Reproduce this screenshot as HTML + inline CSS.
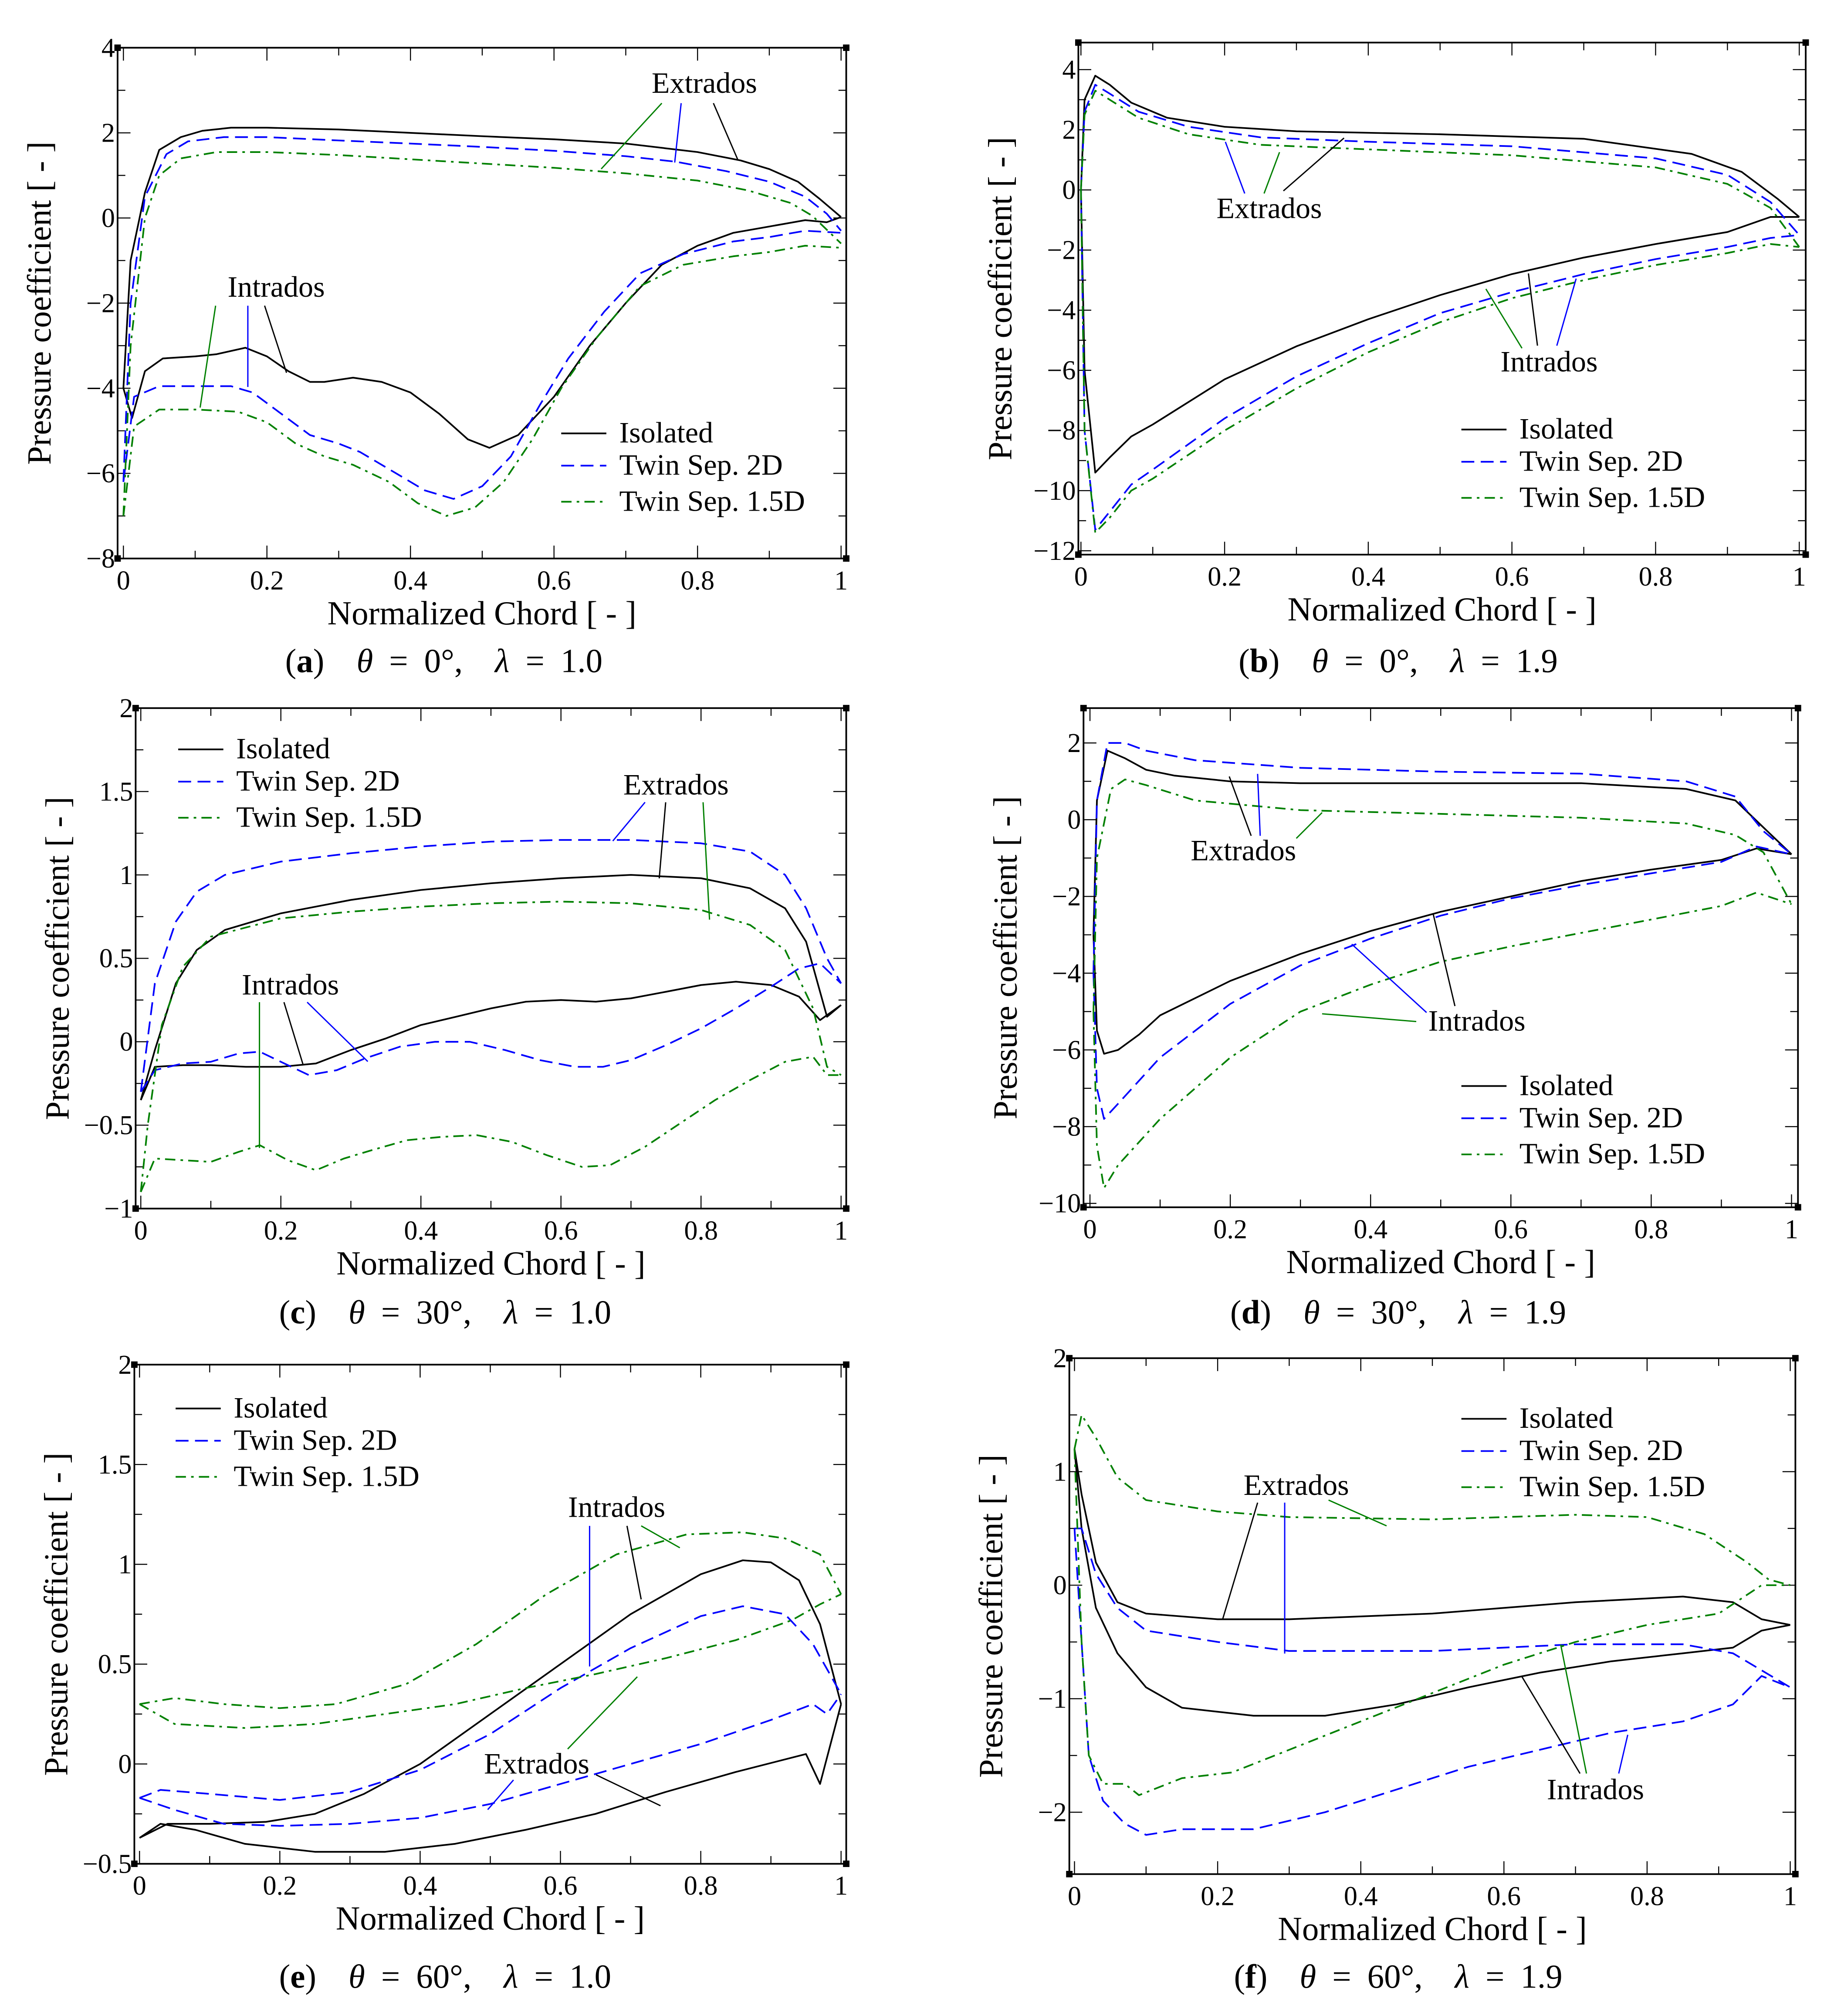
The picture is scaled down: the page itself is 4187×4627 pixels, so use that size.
<!DOCTYPE html>
<html><head><meta charset="utf-8"><style>
html,body{margin:0;padding:0;background:#fff}
svg{display:block}
svg text{font-family:"Liberation Serif",serif;fill:#000}
</style></head><body>
<svg id="fig" width="4187" height="4627" viewBox="0 0 1414 1563" font-family="Liberation Serif, serif" xmlns="http://www.w3.org/2000/svg"></svg>
<script>
// ---- data arrays (x = normalized chord, y = Cp) ----
const a_iso_ext=[[0,-4],[0.01,-1],[0.03,0.6],[0.05,1.6],[0.08,1.9],[0.11,2.05],[0.15,2.12],[0.2,2.12],[0.3,2.08],[0.4,2.0],[0.5,1.92],[0.6,1.85],[0.7,1.75],[0.8,1.55],[0.86,1.35],[0.9,1.15],[0.94,0.85],[0.97,0.45],[1,0.02]];
const a_iso_int=[[0,-4],[0.012,-4.7],[0.03,-3.6],[0.055,-3.3],[0.1,-3.25],[0.13,-3.2],[0.17,-3.05],[0.2,-3.25],[0.23,-3.6],[0.26,-3.85],[0.28,-3.85],[0.32,-3.75],[0.36,-3.85],[0.4,-4.1],[0.44,-4.6],[0.48,-5.2],[0.51,-5.4],[0.55,-5.1],[0.6,-4.2],[0.65,-3.0],[0.7,-2.0],[0.75,-1.1],[0.8,-0.65],[0.85,-0.35],[0.9,-0.2],[0.95,-0.05],[0.98,-0.1],[1,0.02]];
const a_2d_ext=[[0,-6.2],[0.01,-2],[0.03,0.5],[0.06,1.5],[0.09,1.8],[0.14,1.9],[0.2,1.9],[0.3,1.82],[0.4,1.75],[0.5,1.67],[0.6,1.58],[0.7,1.45],[0.77,1.32],[0.84,1.1],[0.9,0.85],[0.95,0.5],[0.98,0.1],[1,-0.3]];
const a_2d_int=[[0,-6.2],[0.015,-4.2],[0.05,-3.95],[0.1,-3.95],[0.15,-3.95],[0.18,-4.1],[0.22,-4.6],[0.26,-5.1],[0.3,-5.3],[0.33,-5.5],[0.38,-6.0],[0.42,-6.4],[0.46,-6.6],[0.5,-6.3],[0.54,-5.6],[0.58,-4.4],[0.62,-3.3],[0.67,-2.2],[0.72,-1.3],[0.78,-0.85],[0.85,-0.55],[0.9,-0.45],[0.95,-0.3],[1,-0.35]];
const a_15_ext=[[0,-7],[0.01,-3],[0.03,0],[0.05,1.0],[0.08,1.4],[0.13,1.55],[0.2,1.55],[0.3,1.48],[0.4,1.38],[0.5,1.28],[0.6,1.18],[0.7,1.05],[0.8,0.88],[0.87,0.65],[0.93,0.35],[0.96,0.05],[1,-0.6]];
const a_15_int=[[0,-7],[0.015,-4.9],[0.05,-4.5],[0.1,-4.5],[0.16,-4.55],[0.2,-4.8],[0.24,-5.3],[0.28,-5.6],[0.32,-5.8],[0.37,-6.2],[0.41,-6.7],[0.45,-7.0],[0.49,-6.8],[0.53,-6.2],[0.57,-5.2],[0.61,-4.0],[0.66,-2.8],[0.72,-1.6],[0.78,-1.1],[0.85,-0.9],[0.9,-0.8],[0.95,-0.65],[1,-0.7]];

const b_iso_ext=[[0,0],[0.005,3],[0.02,3.8],[0.04,3.5],[0.07,2.9],[0.12,2.4],[0.2,2.1],[0.3,1.95],[0.5,1.85],[0.7,1.7],[0.85,1.2],[0.92,0.6],[0.97,-0.3],[1,-0.9]];
const b_2d_ext=[[0,0],[0.005,2.6],[0.02,3.5],[0.04,3.2],[0.08,2.6],[0.15,2.1],[0.25,1.75],[0.4,1.6],[0.6,1.45],[0.8,1.05],[0.9,0.5],[0.96,-0.4],[1,-1.5]];
const b_15_ext=[[0,0],[0.005,2.5],[0.02,3.3],[0.04,3.0],[0.08,2.4],[0.15,1.85],[0.25,1.5],[0.4,1.35],[0.6,1.15],[0.8,0.75],[0.9,0.2],[0.96,-0.6],[1,-1.9]];
const b_iso_int=[[0,0],[0.005,-6],[0.02,-9.4],[0.04,-8.9],[0.07,-8.2],[0.1,-7.8],[0.2,-6.3],[0.3,-5.2],[0.4,-4.3],[0.5,-3.5],[0.6,-2.8],[0.7,-2.25],[0.8,-1.8],[0.9,-1.4],[0.96,-0.9],[1,-0.9]];
const b_2d_int=[[0,0],[0.005,-8],[0.02,-11.3],[0.04,-10.7],[0.07,-9.8],[0.1,-9.3],[0.2,-7.6],[0.3,-6.2],[0.4,-5.1],[0.5,-4.1],[0.6,-3.4],[0.7,-2.8],[0.8,-2.3],[0.9,-1.9],[0.96,-1.6],[1,-1.5]];
const b_15_int=[[0,0],[0.005,-8],[0.02,-11.4],[0.04,-10.9],[0.07,-10.0],[0.1,-9.6],[0.2,-8.0],[0.3,-6.6],[0.4,-5.4],[0.5,-4.4],[0.6,-3.6],[0.7,-3.0],[0.8,-2.5],[0.9,-2.1],[0.96,-1.8],[1,-1.9]];

const c_iso_ext=[[0,-0.35],[0.02,-0.05],[0.05,0.35],[0.08,0.55],[0.12,0.67],[0.2,0.77],[0.3,0.85],[0.4,0.91],[0.5,0.95],[0.6,0.98],[0.7,1.0],[0.8,0.98],[0.87,0.92],[0.92,0.8],[0.95,0.6],[0.98,0.15],[1,0.22]];
const c_2d_ext=[[0,-0.3],[0.02,0.35],[0.05,0.72],[0.08,0.9],[0.12,1.0],[0.2,1.08],[0.3,1.13],[0.4,1.17],[0.5,1.2],[0.6,1.21],[0.7,1.21],[0.8,1.19],[0.87,1.14],[0.92,1.0],[0.95,0.8],[0.98,0.5],[1,0.35]];
const c_15_ext=[[0,-0.9],[0.01,-0.5],[0.03,0.1],[0.06,0.45],[0.1,0.63],[0.2,0.74],[0.3,0.78],[0.4,0.81],[0.5,0.83],[0.6,0.84],[0.7,0.83],[0.8,0.79],[0.87,0.7],[0.92,0.55],[0.96,0.2],[0.98,-0.15],[1,-0.2]];
const c_iso_int=[[0,-0.35],[0.02,-0.15],[0.06,-0.14],[0.1,-0.14],[0.15,-0.15],[0.2,-0.15],[0.25,-0.13],[0.3,-0.05],[0.35,0.02],[0.4,0.1],[0.45,0.15],[0.5,0.2],[0.55,0.24],[0.6,0.25],[0.65,0.24],[0.7,0.26],[0.75,0.3],[0.8,0.34],[0.85,0.36],[0.9,0.34],[0.94,0.27],[0.97,0.13],[1,0.22]];
const c_2d_int=[[0,-0.3],[0.02,-0.17],[0.06,-0.13],[0.1,-0.12],[0.14,-0.07],[0.17,-0.06],[0.21,-0.14],[0.24,-0.2],[0.28,-0.17],[0.32,-0.1],[0.37,-0.03],[0.42,0.0],[0.47,0.0],[0.52,-0.05],[0.57,-0.11],[0.62,-0.15],[0.66,-0.15],[0.7,-0.11],[0.75,-0.02],[0.8,0.08],[0.85,0.2],[0.9,0.33],[0.94,0.44],[0.97,0.47],[1,0.35]];
const c_15_int=[[0,-0.9],[0.02,-0.7],[0.06,-0.71],[0.1,-0.72],[0.14,-0.66],[0.17,-0.62],[0.21,-0.71],[0.25,-0.77],[0.29,-0.7],[0.33,-0.65],[0.38,-0.59],[0.43,-0.57],[0.48,-0.56],[0.53,-0.6],[0.58,-0.68],[0.63,-0.75],[0.67,-0.74],[0.72,-0.63],[0.77,-0.49],[0.82,-0.35],[0.87,-0.23],[0.92,-0.12],[0.96,-0.09],[0.98,-0.2],[1,-0.2]];

const d_iso_ext=[[0.005,-3],[0.01,0.5],[0.025,1.8],[0.05,1.6],[0.08,1.3],[0.12,1.15],[0.2,1.0],[0.3,0.95],[0.5,0.95],[0.7,0.95],[0.85,0.8],[0.92,0.5],[0.96,-0.2],[1,-0.9]];
const d_2d_ext=[[0.005,-4],[0.01,0.5],[0.025,2.0],[0.05,2.0],[0.08,1.8],[0.15,1.55],[0.3,1.35],[0.5,1.25],[0.7,1.2],[0.85,1.0],[0.92,0.6],[0.96,-0.3],[1,-0.9]];
const d_15_ext=[[0.005,-5],[0.01,-1],[0.03,0.8],[0.05,1.05],[0.08,0.9],[0.15,0.5],[0.3,0.25],[0.5,0.15],[0.7,0.05],[0.85,-0.1],[0.92,-0.4],[0.96,-0.85],[1,-2.2]];
const d_iso_int=[[0.005,-3],[0.01,-5.5],[0.02,-6.1],[0.04,-6.0],[0.07,-5.6],[0.1,-5.1],[0.2,-4.2],[0.3,-3.5],[0.4,-2.9],[0.5,-2.4],[0.6,-2.0],[0.7,-1.6],[0.8,-1.3],[0.9,-1.05],[0.95,-0.75],[1,-0.9]];
const d_2d_int=[[0.005,-4],[0.01,-7],[0.02,-7.8],[0.04,-7.4],[0.07,-6.8],[0.1,-6.2],[0.2,-4.8],[0.3,-3.8],[0.4,-3.1],[0.5,-2.5],[0.6,-2.05],[0.7,-1.7],[0.8,-1.4],[0.9,-1.1],[0.95,-0.7],[1,-0.9]];
const d_15_int=[[0.005,-5],[0.01,-8.5],[0.02,-9.6],[0.04,-9.0],[0.07,-8.4],[0.1,-7.8],[0.2,-6.2],[0.3,-5.0],[0.4,-4.3],[0.5,-3.7],[0.6,-3.3],[0.7,-2.95],[0.8,-2.6],[0.9,-2.25],[0.95,-1.9],[1,-2.2]];

const e_iso_ext=[[0,-0.37],[0.03,-0.3],[0.08,-0.33],[0.15,-0.4],[0.25,-0.44],[0.35,-0.44],[0.45,-0.4],[0.55,-0.33],[0.65,-0.25],[0.75,-0.14],[0.85,-0.04],[0.95,0.05],[0.97,-0.1],[1,0.3]];
const e_iso_int=[[0,-0.37],[0.04,-0.3],[0.1,-0.3],[0.18,-0.29],[0.25,-0.25],[0.32,-0.15],[0.4,0.0],[0.5,0.25],[0.6,0.5],[0.7,0.75],[0.8,0.95],[0.86,1.02],[0.9,1.01],[0.94,0.92],[0.97,0.7],[1,0.3]];
const e_2d_int=[[0,-0.17],[0.03,-0.13],[0.1,-0.15],[0.2,-0.18],[0.3,-0.14],[0.4,-0.03],[0.5,0.15],[0.6,0.38],[0.7,0.58],[0.8,0.74],[0.86,0.79],[0.92,0.75],[0.96,0.6],[1,0.35]];
const e_2d_ext=[[0,-0.17],[0.05,-0.23],[0.12,-0.3],[0.2,-0.31],[0.3,-0.3],[0.4,-0.27],[0.5,-0.2],[0.6,-0.1],[0.7,0.0],[0.8,0.1],[0.9,0.22],[0.96,0.3],[0.98,0.25],[1,0.35]];
const e_15_int=[[0,0.3],[0.05,0.33],[0.12,0.3],[0.2,0.28],[0.28,0.3],[0.38,0.4],[0.48,0.6],[0.58,0.85],[0.68,1.05],[0.78,1.15],[0.86,1.16],[0.92,1.13],[0.97,1.05],[1,0.85]];
const e_15_ext=[[0,0.3],[0.05,0.2],[0.15,0.18],[0.25,0.2],[0.35,0.25],[0.45,0.3],[0.55,0.38],[0.65,0.45],[0.75,0.53],[0.85,0.62],[0.93,0.72],[0.97,0.8],[1,0.85]];

const f_iso_ext=[[0,1.2],[0.01,0.8],[0.03,0.2],[0.06,-0.15],[0.1,-0.25],[0.2,-0.3],[0.3,-0.3],[0.5,-0.25],[0.7,-0.15],[0.85,-0.1],[0.92,-0.15],[0.96,-0.3],[1,-0.35]];
const f_iso_int=[[0,1.2],[0.01,0.5],[0.03,-0.2],[0.06,-0.6],[0.1,-0.9],[0.15,-1.08],[0.25,-1.15],[0.35,-1.15],[0.45,-1.05],[0.55,-0.9],[0.65,-0.77],[0.75,-0.67],[0.85,-0.6],[0.92,-0.55],[0.96,-0.4],[1,-0.35]];
const f_2d_ext=[[0,0.5],[0.01,0.5],[0.03,0.1],[0.06,-0.2],[0.1,-0.4],[0.2,-0.5],[0.3,-0.58],[0.5,-0.58],[0.7,-0.52],[0.85,-0.52],[0.92,-0.6],[0.96,-0.75],[1,-0.9]];
const f_2d_int=[[0,0.5],[0.01,-0.5],[0.02,-1.5],[0.04,-1.9],[0.07,-2.1],[0.1,-2.2],[0.15,-2.15],[0.25,-2.15],[0.35,-2.0],[0.45,-1.8],[0.55,-1.6],[0.65,-1.45],[0.75,-1.3],[0.85,-1.2],[0.92,-1.05],[0.96,-0.8],[1,-0.9]];
const f_15_ext=[[0,1.2],[0.01,1.5],[0.03,1.3],[0.06,0.95],[0.1,0.75],[0.2,0.65],[0.3,0.6],[0.5,0.58],[0.7,0.62],[0.8,0.6],[0.88,0.45],[0.94,0.2],[0.97,0.05],[1,0.0]];
const f_15_int=[[0,1.2],[0.01,-0.5],[0.02,-1.5],[0.04,-1.75],[0.07,-1.75],[0.09,-1.85],[0.15,-1.7],[0.22,-1.65],[0.3,-1.45],[0.4,-1.2],[0.5,-0.95],[0.6,-0.7],[0.7,-0.5],[0.8,-0.35],[0.9,-0.25],[0.96,0.0],[1,0.0]];

const xTickLabels=["0","0.2","0.4","0.6","0.8","1"];
const yTicksA=[4,2,0,-2,-4,-6,-8];
const yTicksB=[4,2,0,-2,-4,-6,-8,-10,-12];
const yTicksC=[2,1.5,1,0.5,0,-0.5,-1];
const yTicksD=[2,0,-2,-4,-6,-8,-10];
const yTicksE=[2,1.5,1,0.5,0,-0.5];
const yTicksF=[2,1,0,-1,-2];

const NS="http://www.w3.org/2000/svg";
const FONT='"Liberation Serif", serif';
const svg=document.getElementById('fig');
function mk(tag,attrs,parent){const e=document.createElementNS(NS,tag);for(const k in attrs)e.setAttribute(k,attrs[k]);if(tag==='text'){e.setAttribute('font-family',FONT);}(parent||svg).appendChild(e);return e;}
function fmt(v){return (v<0?"\u2212":"")+Math.abs(v);}
const STY={iso:{stroke:"#000",dash:""},d2:{stroke:"#0000ff",dash:"10,5"},d15:{stroke:"#008000",dash:"8,4,2,4"}};

const panels=[
 {id:'a',f:[91,37,656,433],x0:95.5,x1:652,ya:[4,37],yb:[-8,433],ticks:yTicksA,minor:1,
  series:[['iso',a_iso_ext],['iso',a_iso_int],['d2',a_2d_ext],['d2',a_2d_int],['d15',a_15_ext],['d15',a_15_int]],
  leg:[435,336],cap:[344,513],capT:['a','0°','1.0'],
  ann:[['Extrados',546,72,[[553,80,572,124,'#000'],[528,80,523,126,'#0000ff'],[513,80,466,131,'#008000']]],
       ['Intrados',214,230,[[205,237,222,289,'#000'],[192,237,192,300,'#0000ff'],[167,237,155,316,'#008000']]]]},
 {id:'b',f:[836,33,1400,430],x0:838,x1:1395,ya:[4,54],yb:[-12,427],ticks:yTicksB,minor:1,
  series:[['iso',b_iso_ext],['iso',b_iso_int],['d2',b_2d_ext],['d2',b_2d_int],['d15',b_15_ext],['d15',b_15_int]],
  leg:[1133,333],cap:[1084,513],capT:['b','0°','1.9'],
  ann:[['Extrados',984,169,[[965,150,950,110,'#0000ff'],[980,150,992,118,'#008000'],[995,148,1042,107,'#000']]],
       ['Intrados',1201,288,[[1192,268,1185,212,'#000'],[1207,268,1222,216,'#0000ff'],[1180,270,1152,224,'#008000']]]]},
 {id:'c',f:[105,549,656,937],x0:109,x1:652,ya:[2,549],yb:[-1,937],ticks:yTicksC,minor:0.25,
  series:[['iso',c_iso_ext],['iso',c_iso_int],['d2',c_2d_ext],['d2',c_2d_int],['d15',c_15_ext],['d15',c_15_int]],
  leg:[138,581],cap:[345,1018],capT:['c','30°','1.0'],
  ann:[['Extrados',524,616,[[516,622,511,681,'#000'],[500,622,475,652,'#0000ff'],[545,622,550,713,'#008000']]],
       ['Intrados',225,771,[[220,777,235,826,'#000'],[238,777,285,823,'#0000ff'],[201,777,201,890,'#008000']]]]},
 {id:'d',f:[840,549,1394,936],x0:845,x1:1389,ya:[2,576],yb:[-10,933],ticks:yTicksD,minor:1,
  series:[['iso',d_iso_ext],['iso',d_iso_int],['d2',d_2d_ext],['d2',d_2d_int],['d15',d_15_ext],['d15',d_15_int]],
  leg:[1133,842],cap:[1084,1018],capT:['d','30°','1.9'],
  ann:[['Extrados',964,667,[[977,648,975,600,'#0000ff'],[970,648,953,602,'#000'],[1005,650,1025,630,'#008000']]],
       ['Intrados',1145,799,[[1128,780,1111,708,'#000'],[1106,785,1048,732,'#0000ff'],[1098,792,1025,786,'#008000']]]]},
 {id:'e',f:[104,1058,656,1445],x0:108,x1:652,ya:[2,1058],yb:[-0.5,1445],ticks:yTicksE,minor:0.25,
  series:[['iso',e_iso_ext],['iso',e_iso_int],['d2',e_2d_ext],['d2',e_2d_int],['d15',e_15_ext],['d15',e_15_int]],
  leg:[136,1092],cap:[345,1533],capT:['e','60°','1.0'],
  ann:[['Intrados',478,1176,[[486,1183,497,1240,'#000'],[457,1183,457,1292,'#0000ff'],[497,1183,527,1200,'#008000']]],
       ['Extrados',416,1375,[[462,1376,512,1400,'#000'],[398,1380,378,1403,'#0000ff'],[440,1356,494,1300,'#008000']]]]},
 {id:'f',f:[829,1053,1392,1453],x0:833,x1:1388,ya:[2,1053],yb:[-2,1405],ticks:yTicksF,minor:0.5,
  series:[['iso',f_iso_ext],['iso',f_iso_int],['d2',f_2d_ext],['d2',f_2d_int],['d15',f_15_ext],['d15',f_15_int]],
  leg:[1133,1100],cap:[1084,1533],capT:['f','60°','1.9'],
  ann:[['Extrados',1005,1159,[[975,1165,948,1255,'#000'],[996,1165,996,1282,'#0000ff'],[1030,1163,1075,1183,'#008000']]],
       ['Intrados',1237,1395,[[1225,1375,1180,1300,'#000'],[1230,1375,1210,1275,'#008000'],[1255,1375,1262,1345,'#0000ff']]]]}
];

panels.forEach(p=>{
  const g=mk('g',{});
  
  
  const [L,T,R,B]=p.f;
  const xs=v=>p.x0+(p.x1-p.x0)*v;
  const ys=v=>p.ya[1]+(v-p.ya[0])*(p.yb[1]-p.ya[1])/(p.yb[0]-p.ya[0]);
  const yMin=Math.min(p.yb[0],p.ya[0]), yMax=Math.max(p.yb[0],p.ya[0]);
  const tg=mk('g',{stroke:'#000','stroke-width':0.8},g);
  
  
  for(let i=0;i<=10;i++){const x=xs(i/10);const len=i%2?6:10;
    mk('line',{x1:x,y1:B,x2:x,y2:B-len},tg);mk('line',{x1:x,y1:T,x2:x,y2:T+len},tg);}
  for(let k=0;k<=Math.round((yMax-yMin)/p.minor)+6;k++){
    const v=yMin+k*p.minor; const y=ys(v); if(y<T-0.5||y>B+0.5)continue;
    const major=p.ticks.some(t=>Math.abs(t-v)<1e-6);const len=major?10:6;
    mk('line',{x1:L,y1:y,x2:L+len,y2:y},tg);mk('line',{x1:R,y1:y,x2:R-len,y2:y},tg);}
  const fr=mk('rect',{x:L,y:T,width:R-L,height:B-T,fill:'none',stroke:'#000','stroke-width':1.3},g);
  
  
  [[L,T],[R,T],[L,B],[R,B]].forEach(c=>mk('rect',{x:c[0]-2.5,y:c[1]-2.5,width:5,height:5,fill:'#000'},g));
  xTickLabels.forEach((s,i)=>{const t=mk('text',{x:xs(i*0.2),y:B+24,'font-size':21,'text-anchor':'middle'},g);t.textContent=s;
    
    });
  p.ticks.forEach(v=>{const t=mk('text',{x:L-2,y:ys(v)+7,'font-size':21,'text-anchor':'end'},g);t.textContent=fmt(v);
    
    });
  const xt=mk('text',{x:(L+R)/2,y:B+51,'font-size':26,'text-anchor':'middle'},g);xt.textContent='Normalized Chord [ - ]';
  
  
  const yc=(T+B)/2, yx=L-52;
  const yt=mk('text',{x:yx,y:yc,'font-size':26,'text-anchor':'middle',transform:`rotate(-90 ${yx} ${yc})`},g);yt.textContent='Pressure coefficient [ - ]';
  
  
  p.series.forEach(s=>{const st=STY[s[0]];
    const d=s[1].map((pt,i)=>(i?'L':'M')+xs(pt[0]).toFixed(1)+','+ys(pt[1]).toFixed(1)).join(' ');
    const pa=mk('path',{d:d,fill:'none',stroke:st.stroke,'stroke-width':1.3,'stroke-dasharray':st.dash,'stroke-linejoin':'round'},g);
    
    });
  const names=[['iso','Isolated'],['d2','Twin Sep. 2D'],['d15','Twin Sep. 1.5D']];
  const lg=mk('g',{},g);
  
  
  names.forEach((n,i)=>{const y=p.leg[1]+[0,25,53][i];const st=STY[n[0]];
    mk('line',{x1:p.leg[0],y1:y,x2:p.leg[0]+35,y2:y,stroke:st.stroke,'stroke-width':1.3,'stroke-dasharray':st.dash},lg);
    const t=mk('text',{x:p.leg[0]+45,y:y+7,'font-size':23},lg);t.textContent=n[1];
    
    });
  p.ann.forEach(a=>{const t=mk('text',{x:a[1],y:a[2],'font-size':23,'text-anchor':'middle'},g);t.textContent=a[0];
    
    
    a[3].forEach(l=>mk('line',{x1:l[0],y1:l[1],x2:l[2],y2:l[3],stroke:l[4],'stroke-width':1},g));});
  const cp=mk('text',{x:p.cap[0],y:p.cap[1]+8,'font-size':26,'text-anchor':'middle','word-spacing':'6'},g);
  
  
  cp.innerHTML=`(<tspan font-weight="bold">${p.capT[0]}</tspan>)\u00a0\u00a0<tspan font-style="italic">θ</tspan>\u00a0=\u00a0${p.capT[1]},\u00a0\u00a0<tspan font-style="italic">λ</tspan>\u00a0=\u00a0${p.capT[2]}`;
});
</script>
</body></html>
